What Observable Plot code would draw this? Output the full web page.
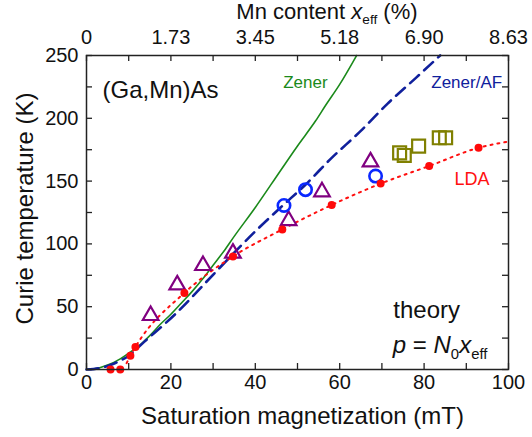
<!DOCTYPE html>
<html>
<head>
<meta charset="utf-8">
<script src="https://cdn.jsdelivr.net/npm/d3@7"></script>
<script src="https://cdn.jsdelivr.net/npm/@observablehq/plot@0.6"></script>
<style>
  html, body { margin: 0; padding: 0; background: #fff; }
</style>
</head>
<body>
<div id="chart"></div>
<script>
// ---- data ----
const xMajor = [0, 20, 40, 60, 80, 100];
const xMinor = [0, 10, 20, 30, 40, 50, 60, 70, 80, 90, 100];
const topLabels = ["0", "1.73", "3.45", "5.18", "6.90", "8.63"];
const yMajor = [0, 50, 100, 150, 200, 250];
const yMinor = [0, 25, 50, 75, 100, 125, 150, 175, 200, 225, 250];

// theory curves
const zenerM = [0, 2, 5, 8, 10, 12.5, 15, 17.5, 20, 22.5, 25, 27.5, 30, 32.5, 35, 40, 46, 50, 54.3, 56.6, 60, 64];
const zenerT = [0, 0.5, 3.5, 8.5, 13, 19, 27, 36, 44, 53, 62, 72, 83, 94, 106, 129, 158.5, 178, 198, 210, 227, 250];
const zenerAFM = [0, 3, 6, 10, 13.6, 20.7, 31, 35, 40, 46, 52, 57.8, 65, 71.3, 78, 83.8];
const zenerAFT = [0, 1, 4, 11, 21.8, 43, 79, 93, 110, 129, 147.5, 167.5, 190, 211.5, 232, 250];
const ldaLineM = [9.5, 10.4, 11.6, 23.2, 34.7, 46.4, 58.1, 69.7, 81.2, 92.9, 100];
const ldaLineT = [5, 11, 18, 61, 90, 111.5, 131, 148, 162, 176.5, 181.5];
// LDA points
const ldaM = [5.7, 8.0, 10.4, 11.6, 23.2, 34.7, 46.4, 58.1, 69.7, 81.2, 92.9];
const ldaT = [0, 0, 11, 18, 61, 90, 111.5, 131, 148, 162, 176.5];
// experiment sets
const triM = [15.2, 21.5, 27.6, 34.7, 47.9, 55.8, 67.3];
const triT = [43, 67.4, 82.8, 92.6, 118.6, 141.5, 165.3];
const circM = [46.8, 51.9, 68.5];
const circT = [130.6, 143.2, 154];
const sqM = [74.2, 75.3, 78.7, 83.6, 85.1];
const sqT = [172.5, 170.4, 177.8, 184.5, 184.5];

const pts = (xs, ys) => xs.map((x, i) => ({x, y: ys[i]}));

const FONT = "'Liberation Sans', Arial, Helvetica, sans-serif";
const W = 532, H = 437;
const mL = 86, mR = 24, mT = 55, mB = 68;
const fw = W - mL - mR, fh = H - mT - mB;
const TICK = 6;
const frameColor = "#222";

const chart = Plot.plot({
  width: W,
  height: H,
  marginLeft: mL,
  marginRight: mR,
  marginTop: mT,
  marginBottom: mB,
  style: {fontFamily: FONT, fontSize: "20px", color: "#111", background: "#fff"},
  x: {domain: [0, 100]},
  y: {domain: [0, 250]},
  marks: [
    // curves
    Plot.line(pts(zenerM, zenerT), {x: "x", y: "y", stroke: "#1b8a1b", strokeWidth: 1.6, curve: "monotone-x"}),
    Plot.line(pts(zenerAFM, zenerAFT), {x: "x", y: "y", stroke: "#10209c", strokeWidth: 2.6, strokeDasharray: "12,7", curve: "monotone-x"}),
    Plot.line(pts(ldaLineM, ldaLineT), {x: "x", y: "y", stroke: "#ff1010", strokeWidth: 2, strokeDasharray: "2,5", curve: "monotone-x"}),
    // experimental points
    Plot.dot(pts(sqM, sqT), {x: "x", y: "y", symbol: "square", r: 7.3, stroke: "#808000", strokeWidth: 2.2, fill: "none"}),
    Plot.dot(pts(triM, triT), {x: "x", y: "y", symbol: "triangle", r: 5.8, stroke: "#800080", strokeWidth: 2.2, fill: "none"}),
    Plot.dot(pts(circM, circT), {x: "x", y: "y", symbol: "circle", r: 6.2, stroke: "#0a28ff", strokeWidth: 2.6, fill: "none"}),
    Plot.dot(pts(ldaM, ldaT), {x: "x", y: "y", r: 4, fill: "#ff0a0a", stroke: "none"}),
    // frame
    Plot.frame({stroke: frameColor, strokeWidth: 1.5}),
    // inward ticks on all four sides
    Plot.ruleX(xMinor, {x: d => d, insetTop: fh - TICK, stroke: frameColor, strokeWidth: 1.3}),
    Plot.ruleX(xMinor, {x: d => d, insetBottom: fh - TICK, stroke: frameColor, strokeWidth: 1.3}),
    Plot.ruleY(yMinor, {y: d => d, insetRight: fw - TICK, stroke: frameColor, strokeWidth: 1.3}),
    Plot.ruleY(yMinor, {y: d => d, insetLeft: fw - TICK, stroke: frameColor, strokeWidth: 1.3}),
    // axes (labels only)
    Plot.axisX({anchor: "bottom", ticks: xMajor, tickSize: 0, tickPadding: 5, label: null, fontSize: 20}),
    Plot.axisX({anchor: "top", ticks: xMajor, tickSize: 0, tickPadding: 12, label: null, fontSize: 20,
      tickFormat: d => topLabels[xMajor.indexOf(d)]}),
    Plot.axisY({anchor: "left", ticks: yMajor, tickSize: 0, tickPadding: 8, label: null, fontSize: 20}),
    // axis titles
    Plot.text(["Saturation magnetization (mT)"], {frameAnchor: "bottom", textAnchor: "middle", lineAnchor: "middle", dy: 47, dx: 5, fontSize: 24, fill: "#111"}),
    Plot.text(["Curie temperature (K)"], {frameAnchor: "left", textAnchor: "middle", lineAnchor: "middle", rotate: -90, dx: -61, dy: -4, fontSize: 24, fill: "#111"}),
    // annotations
    Plot.text(["(Ga,Mn)As"], {frameAnchor: "top-left", lineAnchor: "middle", dx: 16, dy: 35, textAnchor: "start", fontSize: 24, fill: "#111"}),
    Plot.text(["Zener"], {x: 46.6, y: 228.8, textAnchor: "start", fontSize: 17, fill: "#1b8a1b"}),
    Plot.text(["Zener/AF"], {x: 81.7, y: 228.8, textAnchor: "start", fontSize: 17, fill: "#10209c"}),
    Plot.text(["LDA"], {x: 87.2, y: 151.1, textAnchor: "start", fontSize: 18, fill: "#ff1010"}),
    Plot.text(["theory"], {x: 72.7, y: 47.3, textAnchor: "start", fontSize: 24, fill: "#111"})
  ]
});

document.getElementById("chart").appendChild(chart);

// rich text (italics / subscripts) positioned through the chart's own scales
const sx = chart.scale("x"), sy = chart.scale("y");
function richText(xv, yv, anchor, size, parts) {
  const t = d3.select(chart).append("text")
    .attr("x", sx.apply(xv))
    .attr("y", sy.apply(yv))
    .attr("text-anchor", anchor)
    .attr("font-family", FONT)
    .attr("font-size", size)
    .attr("fill", "#111");
  let shifted = 0;
  for (const p of parts) {
    const ts = t.append("tspan").text(p.t);
    if (p.italic) ts.attr("font-style", "italic");
    if (p.sub) {
      ts.attr("font-size", size * 0.62).attr("dy", size * 0.25 - shifted);
      shifted = size * 0.25;
    } else if (shifted) {
      ts.attr("dy", -shifted);
      shifted = 0;
    }
  }
  return t;
}
// top axis title
richText(57.1, 278.7, "middle", 22, [
  {t: "Mn content "}, {t: "x", italic: true}, {t: "eff", sub: true}, {t: " (%)"}
]);
// equation
richText(72.7, 13.1, "start", 24, [
  {t: "p", italic: true}, {t: " = "}, {t: "N", italic: true}, {t: "0", sub: true},
  {t: "x", italic: true}, {t: "eff", sub: true}
]);
</script>
</body>
</html>
